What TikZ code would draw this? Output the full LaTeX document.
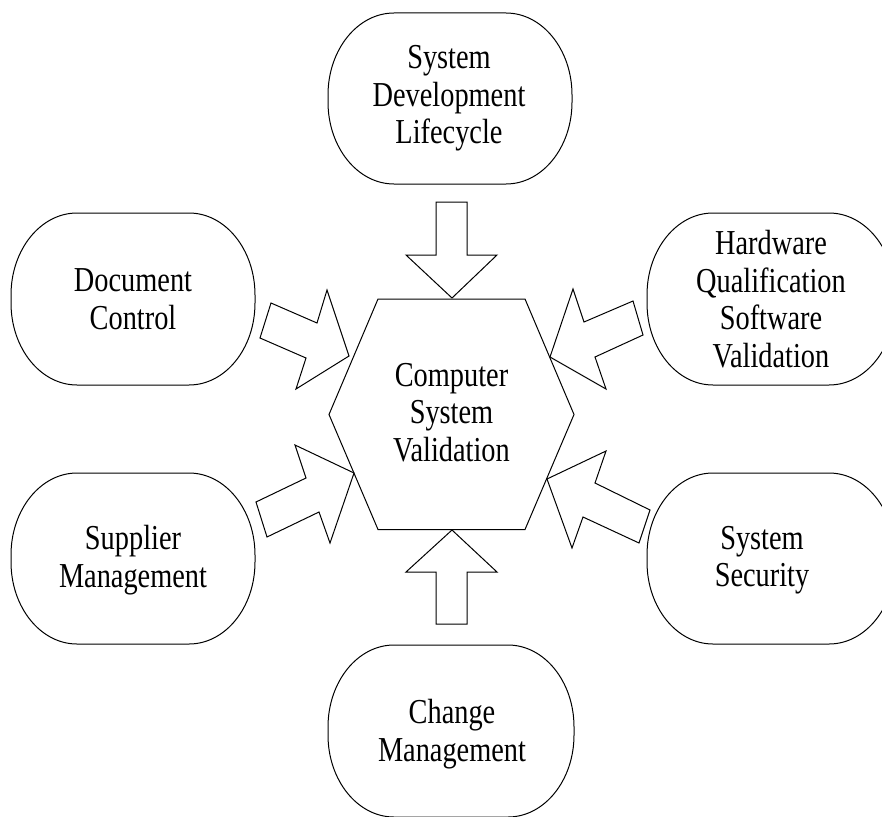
\documentclass[tikz,border=0pt]{standalone}
\usepackage{fontspec}
\setmainfont[FakeStretch=0.81]{Liberation Serif}
\newcommand{\myrbox}[4]{%
  \draw[shapeline] (#1,{#2+82}) .. controls (#1,{#2+82*0.4477}) and ({#1+66*0.4477},#2) .. ({#1+66},#2)
    -- ({#3-66},#2) .. controls ({#3-66*0.4477},#2) and (#3,{#2+82*0.4477}) .. (#3,{#2+82})
    -- (#3,{#4-82}) .. controls (#3,{#4-82*0.4477}) and ({#3-66*0.4477},#4) .. ({#3-66},#4)
    -- ({#1+66},#4) .. controls ({#1+66*0.4477},#4) and (#1,{#4-82*0.4477}) .. (#1,{#4-82}) -- cycle;}
\begin{document}
\begin{tikzpicture}[x=1pt,y=-1pt,
  shapeline/.style={draw=black,line width=1pt,fill=white,line join=miter},
  blockarrow/.style={draw=black,line width=1pt,fill=white,line join=miter},
  lbl/.style={align=center,inner sep=0pt,font=\fontsize{35}{37.5}\selectfont}]
\useasboundingbox (0,0) rectangle (882,816);
% boxes
\myrbox{328}{13}{572}{184}
\myrbox{11}{213}{255}{385}
\myrbox{647}{213}{895}{385}
\myrbox{11}{473}{255}{644}
\myrbox{647}{473}{895}{644}
\myrbox{328}{645}{574}{817}
% hexagon
\coordinate (hl) at (329,414.5);
\coordinate (htl) at (378,299);
\coordinate (htr) at (525,299);
\coordinate (hr) at (574,414.5);
\coordinate (hbr) at (525,529.5);
\coordinate (hbl) at (378,529.5);
\draw[shapeline] (hl) -- (htl) -- (htr) -- (hr) -- (hbr) -- (hbl) -- cycle;
% block arrows
\draw[blockarrow] (436,202) -- (467,202) -- (467,255) -- (497,255) -- (452,298) -- (406,255) -- (436,255) -- cycle;
\draw[blockarrow] (452,530) -- (497,572) -- (467,572) -- (467,624) -- (436,624) -- (436,572) -- (406,572) -- cycle;
\draw[blockarrow] (271,303) -- (317,323) -- (327,290) -- (349,356) -- (296,389) -- (306,358) -- (260,338) -- cycle;
\draw[blockarrow] (633,301) -- (584,322) -- (573,289) -- (550,357) -- (606,389) -- (595,357) -- (643,335) -- cycle;
\draw[blockarrow] (256,502) -- (306,478) -- (295,445) -- (354,473) -- (330,543) -- (319,512) -- (267,537) -- cycle;
\draw[blockarrow] (650,510) -- (595,483) -- (606,451) -- (547,479) -- (572,548) -- (583,517) -- (639,543) -- cycle;
% labels
\node[lbl] (sdl) at (449,98.5) {System\\Development\\Lifecycle};
\node[lbl] (doc) at (133,299) {Document\\Control};
\node[lbl] (hw) at (771,299) {Hardware\\Qualification\\Software\\Validation};
\node[lbl] (sup) at (133,560) {Supplier\\Management};
\node[lbl] (sec) at (762,560) {System\\Security};
\node[lbl] (chg) at (452,734) {Change\\Management};
\node[lbl] (csv) at (451.5,412.5) {Computer\\System\\Validation};
\end{tikzpicture}
\end{document}
